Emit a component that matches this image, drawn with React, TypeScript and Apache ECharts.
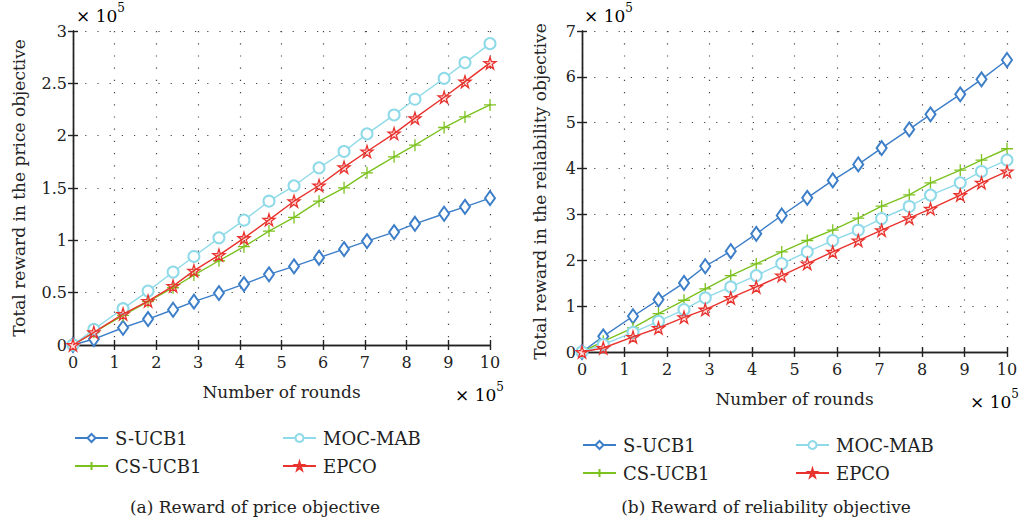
import { useEffect, useRef } from 'react';
import * as echarts from 'echarts';

// x positions of the plotted points (× 10^5 rounds)
const roundsX = [0, 0.5, 1.2, 1.8, 2.4, 2.9, 3.5, 4.1, 4.7, 5.3, 5.9, 6.5, 7.05, 7.7, 8.2, 8.9, 9.4, 10];

const seriesNames = ['S-UCB1', 'CS-UCB1', 'MOC-MAB', 'EPCO'];

// (a) price objective (× 10^5)
const priceSUCB1 = [0, 0.057, 0.165, 0.248, 0.337, 0.414, 0.496, 0.582, 0.675, 0.751, 0.834, 0.916, 0.993, 1.079, 1.158, 1.254, 1.32, 1.403];
const priceCSUCB1 = [0, 0.121, 0.283, 0.414, 0.547, 0.668, 0.805, 0.939, 1.088, 1.219, 1.374, 1.502, 1.645, 1.798, 1.909, 2.078, 2.179, 2.294];
const priceMOCMAB = [0, 0.15, 0.347, 0.515, 0.697, 0.846, 1.024, 1.193, 1.374, 1.521, 1.693, 1.849, 2.017, 2.198, 2.348, 2.548, 2.698, 2.879];
const priceEPCO = [0, 0.121, 0.296, 0.42, 0.563, 0.71, 0.859, 1.021, 1.196, 1.374, 1.524, 1.699, 1.849, 2.02, 2.167, 2.367, 2.516, 2.695];

// (b) reliability objective (× 10^5)
const relSUCB1 = [0, 0.342, 0.779, 1.143, 1.507, 1.87, 2.198, 2.576, 2.977, 3.362, 3.741, 4.09, 4.447, 4.854, 5.182, 5.619, 5.946, 6.368];
const relCSUCB1 = [0, 0.233, 0.524, 0.837, 1.128, 1.376, 1.667, 1.921, 2.183, 2.431, 2.656, 2.918, 3.18, 3.428, 3.69, 3.966, 4.185, 4.432];
const relMOCMAB = [0, 0.16, 0.429, 0.669, 0.924, 1.179, 1.419, 1.667, 1.929, 2.183, 2.431, 2.656, 2.911, 3.173, 3.421, 3.69, 3.937, 4.185];
const relEPCO = [0, 0.087, 0.328, 0.524, 0.757, 0.924, 1.179, 1.419, 1.667, 1.929, 2.183, 2.431, 2.656, 2.918, 3.122, 3.421, 3.69, 3.937];

const xTicks = [0, 1, 2, 3, 4, 5, 6, 7, 8, 9, 10];
const priceYTicks = [0, 0.5, 1, 1.5, 2, 2.5, 3];
const relYTicks = [0, 1, 2, 3, 4, 5, 6, 7];

const FONT = "'DejaVu Serif', serif";
const colors = ['#3c7ec8', '#7cc21f', '#8fdae8', '#e8332e'];
const STAR = 'path://M50,0 L61,35 L98,35 L68,57 L79,91 L50,70 L21,91 L32,57 L2,35 L39,35 Z';
const PLUS = 'path://M0,50 L100,50 M50,0 L50,100';
const symbols = [
  { symbol: 'emptyDiamond', size: [10, 14], fill: null as any },
  { symbol: PLUS, size: 12, fill: 'none' },
  { symbol: 'emptyCircle', size: 11, fill: null as any },
  { symbol: STAR, size: 12, fill: 'rgba(232,51,46,0.15)' },
];

export default function App() {
  const ref = useRef<HTMLDivElement>(null);
  useEffect(() => {
    document.body.style.margin = '0';
    const chart = echarts.init(ref.current!, null, { renderer: 'svg' });
    const grids = [
      { left: 73, top: 31, width: 417, height: 314 },
      { left: 582, top: 31, width: 425, height: 321 },
    ];
    const yTicksSets = [priceYTicks, relYTicks];
    const yNames = ['Total reward in the price objective', 'Total reward in the reliability objective'];
    const yNameGaps = [46, 34];
    const dataSets = [
      [priceSUCB1, priceCSUCB1, priceMOCMAB, priceEPCO],
      [relSUCB1, relCSUCB1, relMOCMAB, relEPCO],
    ];
    const axisLine = { show: true, lineStyle: { color: '#222', width: 1.4 } };
    const tick = { show: true, inside: true, length: 5, lineStyle: { color: '#222', width: 1.4 } };
    const labelStyle = { fontFamily: FONT, fontSize: 16, color: '#222' };
    const gridLine = { show: true, lineStyle: { color: '#444', type: [1.2, 11], width: 1.2 } };
    const xAxis: any[] = [];
    const yAxis: any[] = [];
    grids.forEach((g, gi) => {
      const yt = yTicksSets[gi];
      const yInt = yt[1] - yt[0];
      xAxis.push({
        type: 'value', gridIndex: gi, min: xTicks[0], max: xTicks[xTicks.length - 1], interval: 1,
        position: 'bottom', axisLine, axisTick: tick,
        axisLabel: { ...labelStyle, margin: 9 },
        splitLine: gridLine,
        name: 'Number of rounds', nameLocation: 'middle', nameGap: 38,
        nameTextStyle: { fontFamily: FONT, fontSize: 17, color: '#222' },
      });
      xAxis.push({
        type: 'value', gridIndex: gi, min: xTicks[0], max: xTicks[xTicks.length - 1], interval: 1,
        position: 'top', axisLine, axisTick: tick, axisLabel: { show: false }, splitLine: { show: false },
      });
      yAxis.push({
        type: 'value', gridIndex: gi, min: yt[0], max: yt[yt.length - 1], interval: yInt,
        position: 'left', axisLine, axisTick: tick,
        axisLabel: { ...labelStyle, margin: 6 },
        splitLine: gridLine,
        name: yNames[gi], nameLocation: 'middle', nameGap: yNameGaps[gi],
        nameTextStyle: { fontFamily: FONT, fontSize: 17, color: '#222' },
      });
      yAxis.push({
        type: 'value', gridIndex: gi, min: yt[0], max: yt[yt.length - 1], interval: yInt,
        position: 'right', axisLine, axisTick: tick, axisLabel: { show: false }, splitLine: { show: false },
      });
    });
    const series: any[] = [];
    dataSets.forEach((set, gi) => {
      set.forEach((vals, si) => {
        const sy = symbols[si];
        const itemStyle: any = sy.fill
          ? { color: sy.fill, borderColor: colors[si], borderWidth: 1.3 }
          : { color: colors[si], borderWidth: 1.3 };
        series.push({
          type: 'line', name: seriesNames[si],
          xAxisIndex: gi * 2, yAxisIndex: gi * 2,
          data: roundsX.map((x, i) => [x, vals[i]]),
          symbol: sy.symbol, symbolSize: sy.size, showAllSymbol: true,
          lineStyle: { color: colors[si], width: 1.4 },
          itemStyle,
          z: 2 + si,
        });
      });
    });
    const legendPos = [
      // [left, centerY] per chart, per series
      [[74, 434], [74, 462], [282, 434], [282, 462]],
      [[582, 441], [582, 469], [795, 441], [795, 469]],
    ];
    const legend: any[] = [];
    legendPos.forEach((chartPos) => {
      chartPos.forEach((p, si) => {
        legend.push({
          data: [seriesNames[si]], left: p[0], top: p[1] - 5, itemWidth: 33, itemHeight: 10,
          padding: 0,
          selectedMode: false, orient: 'horizontal',
          textStyle: { fontFamily: FONT, fontSize: 18, color: '#222', padding: [0, 0, 0, 2] },
        });
      });
    });
    const sup = (x: number, y: number) => ({
      type: 'text', left: x, top: y,
      style: {
        text: '{a|× 10}{b|5}',
        rich: {
          a: { fontFamily: FONT, fontSize: 17, color: '#222', padding: [7, 0, 0, 0] },
          b: { fontFamily: FONT, fontSize: 12, color: '#222', padding: [0, 0, 8, 0] },
        },
      },
    });
    chart.setOption({
      animation: false,
      backgroundColor: '#fff',
      grid: grids,
      xAxis, yAxis, series, legend,
      graphic: [
        sup(76, 2), sup(584, 2), sup(455, 381), sup(970, 388),
        { type: 'text', x: 255, y: 507, style: { text: '(a) Reward of price objective', fontFamily: FONT, fontSize: 17, fill: '#222', align: 'center', verticalAlign: 'middle' } },
        { type: 'text', x: 766, y: 507, style: { text: '(b) Reward of reliability objective', fontFamily: FONT, fontSize: 17, fill: '#222', align: 'center', verticalAlign: 'middle' } },
      ],
    });
    return () => chart.dispose();
  }, []);
  return <div ref={ref} style={{ width: 1021, height: 521 }} />;
}
